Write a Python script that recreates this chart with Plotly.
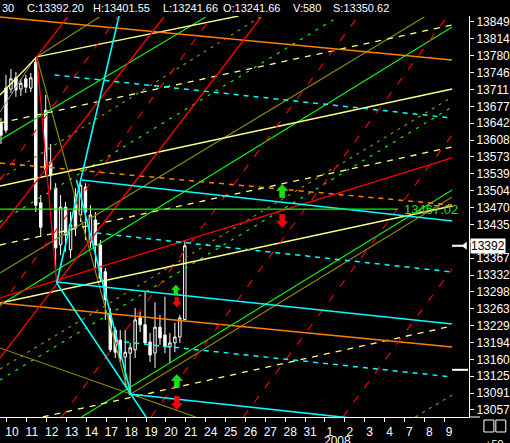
import plotly.graph_objects as go

# ---------------- data ----------------
# price bars: 4 bars per session, session index 0 = Dec 10
bar_pos = [-0.3, -0.05, 0.2, 0.45, 0.7, 0.95, 1.2, 1.45, 1.7, 1.95, 2.2, 2.45, 2.7, 2.95,
           3.2, 3.45, 3.7, 3.95, 4.2, 4.45, 4.7, 4.95, 5.2, 5.45, 5.7, 5.95, 6.2, 6.45,
           6.7, 6.95, 7.2, 7.45, 7.7, 7.95, 8.2, 8.45, 8.7, 8.95]
bar_open = [13643, 13714, 13712, 13735, 13712, 13733, 13714, 13767, 13480, 13669, 13563, 13510,
            13394, 13471, 13384, 13496, 13455, 13512, 13400, 13445, 13394, 13339, 13255, 13220,
            13200, 13165, 13173, 13180, 13245, 13231, 13196, 13173, 13226, 13210, 13186, 13194,
            13206, 13241.66]
bar_high = [13653, 13741, 13753, 13747, 13733, 13741, 13745, 13778, 13496, 13700, 13600, 13520,
            13496, 13482, 13461, 13510, 13527, 13520, 13475, 13461, 13404, 13347, 13265, 13226,
            13220, 13220, 13194, 13265, 13257, 13298, 13214, 13277, 13251, 13288, 13214, 13235,
            13251, 13401.55]
bar_low = [13600, 13622, 13704, 13696, 13698, 13704, 13706, 13461, 13410, 13537, 13506, 13347,
           13373, 13380, 13367, 13412, 13441, 13404, 13388, 13347, 13318, 13241, 13175, 13163,
           13155, 13108, 13092, 13163, 13216, 13190, 13155, 13143, 13190, 13173, 13153, 13175,
           13194, 13241.66]
bar_close = [13618, 13628, 13733, 13710, 13724, 13716, 13735, 13475, 13430, 13547, 13537, 13388,
             13471, 13414, 13435, 13429, 13516, 13461, 13455, 13394, 13326, 13282, 13180, 13175,
             13163, 13175, 13184, 13241, 13231, 13194, 13169, 13226, 13204, 13186, 13194, 13206,
             13245, 13392.20]

day_labels = ["10", "11", "12", "13", "14", "17", "18", "19", "20", "21", "24", "25", "26",
              "27", "28", "31", "1", "2", "3", "4", "7", "8", "9"]
price_ticks = [13057.0, 13091.4, 13125.9, 13160.3, 13194.7, 13229.2, 13263.6, 13298.0, 13332.5,
               13366.9, 13401.4, 13435.8, 13470.2, 13504.7, 13539.1, 13573.5, 13608.0, 13642.4,
               13676.8, 13711.3, 13745.7, 13780.1, 13814.6, 13849.0]
price_labels = ["13057", "13091", "13125", "13160", "13194", "13229", "13263", "13298", "13332",
                "13367", "", "13435", "13470", "13504", "13539", "13573", "13608", "13642",
                "13677", "13711", "13746", "13780", "13814", "13849"]

# drawn study lines: (session0, price0, session1, price1)
orange_solid = [(-0.35, 13859.2, 22.4, 13771.4), (-0.35, 13275.4, 22.4, 13185.6)]
orange_dash = [(-0.35, 13561.2, 22.4, 13475.4)]
cyan_solid = [(3.75, 13526.5, 22.4, 13442.8), (2.5, 13318.3, 22.4, 13232.6),
              (6.15, 13089.7, 22.4, 13018.2), (5.65, 13863.3, 2.5, 13316.2),
              (2.5, 13316.2, 7.0, 13042.7), (3.5, 13526.5, 6.25, 13087.6)]
cyan_dash = [(2.4, 13740.8, 22.4, 13653.0), (4.5, 13418.3, 22.4, 13338.7),
             (5.9, 13195.8, 22.4, 13124.4)]
yellow_solid = [(1.5, 13777.6, 11.65, 13861.2), (-0.35, 13700.0, 1.5, 13777.6),
                (-0.35, 13514.2, 22.4, 13712.2), (-0.35, 13275.4, 22.4, 13473.4)]
yellow_dash = [(-0.35, 13642.8, 22.4, 13842.9), (-0.35, 13393.8, 22.4, 13593.8),
               (1.8, 13042.7, 22.4, 13228.5)]
green_solid = [(-0.35, 13608.1, 10.0, 13859.2), (-0.35, 13271.3, 22.4, 13838.8),
               (3.75, 13042.7, 22.4, 13506.1)]
green_dash = [(-0.35, 13440.8, 16.65, 13859.2), (-0.35, 13118.3, 22.4, 13675.5)]
olive_solid = [(1.5, 13777.6, 4.65, 13859.2), (1.5, 13777.6, 6.15, 13087.6),
               (-0.35, 13336.6, 21.0, 13859.2), (6.15, 13087.6, 22.4, 13491.8),
               (-0.35, 13183.6, 9.5, 13042.7)]
olive_dash = [(-0.35, 13528.5, 12.75, 13859.2), (-0.35, 13140.7, 22.4, 13695.9),
              (20.55, 13042.7, 22.4, 13087.6)]
red_solid = [(1.5, 13777.6, 3.05, 13859.2), (1.5, 13777.6, 2.5, 13316.2),
             (-0.35, 13428.5, 7.9, 13859.2), (-0.35, 13163.1, 12.8, 13859.2),
             (-0.35, 13285.6, 22.4, 13571.4)]
red_dash = [(-0.35, 13526.5, 5.55, 13859.2), (-0.35, 13267.3, 10.3, 13859.2),
            (2.75, 13042.7, 17.65, 13859.2), (7.25, 13042.7, 22.15, 13859.2),
            (11.9, 13042.7, 22.4, 13618.3), (16.9, 13042.7, 22.4, 13344.8)]
gray_solid = [(-0.35, 13665.3, 1.4, 13775.5)]

support_level = 13467.02
support_span = (-0.35, 19.65)
last_price = 13392.20
marker_level = 13139
up_arrows = [(13.85, 13504.0, 1.0), (8.5, 13302.0, 0.75), (8.55, 13116.2, 1.0)]
down_arrows = [(13.85, 13442.8, 1.0), (8.55, 13277.4, 0.75), (8.55, 13071.3, 1.0)]

header_items = ["30", "C:13392.20", "H:13401.55", "L:13241.66", "O:13241.66", "V:580", "S:13350.62"]

# ---------------- figure ----------------
X_RANGE = [-0.35, 23.25]
Y_RANGE = [13042.7, 13861.2]
FONT = "Liberation Sans, Arial, sans-serif"

fig = go.Figure()

fig.add_trace(go.Candlestick(
    x=bar_pos, open=bar_open, high=bar_high, low=bar_low, close=bar_close,
    increasing=dict(line=dict(color="white", width=1), fillcolor="black"),
    decreasing=dict(line=dict(color="white", width=1), fillcolor="white"),
    whiskerwidth=0, showlegend=False, hoverinfo="skip"))


def seg_trace(segs, color, dash="solid", width=1.0):
    xs, ys = [], []
    for x0, y0, x1, y1 in segs:
        xs += [x0, x1, None]
        ys += [y0, y1, None]
    return go.Scatter(x=xs, y=ys, mode="lines", showlegend=False, hoverinfo="skip",
                      line=dict(color=color, width=width, dash=dash))


fig.add_trace(seg_trace(gray_solid, "#909090", "solid", 1))
fig.add_trace(seg_trace(olive_dash, "#8a8a00", "3px,5px", 1.2))
fig.add_trace(seg_trace(olive_solid, "#8a8a00", "solid", 1.2))
fig.add_trace(seg_trace(green_dash, "#10f010", "3px,6px", 1.2))
fig.add_trace(seg_trace(green_solid, "#10f010", "solid", 1.2))
fig.add_trace(seg_trace(yellow_dash, "#ffff80", "6px,6px", 1.3))
fig.add_trace(seg_trace(yellow_solid, "#ffff80", "solid", 1.3))
fig.add_trace(seg_trace(orange_dash, "#ff8000", "5px,5px", 1.5))
fig.add_trace(seg_trace(orange_solid, "#ff8000", "solid", 1.5))
fig.add_trace(seg_trace(red_dash, "#ff0000", "8px,10px", 1.1))
fig.add_trace(seg_trace(red_solid, "#ff0000", "solid", 1.3))
fig.add_trace(seg_trace(cyan_dash, "#00ffff", "5px,5px", 1.5))
fig.add_trace(seg_trace(cyan_solid, "#00ffff", "solid", 1.6))

# support line
fig.add_trace(go.Scatter(x=list(support_span), y=[support_level, support_level], mode="lines",
                         line=dict(color="#10f010", width=1.3), showlegend=False, hoverinfo="skip"))

# last-price pointer
fig.add_trace(go.Scatter(x=[22.4, 22.95], y=[last_price, last_price], mode="lines",
                         line=dict(color="white", width=2), showlegend=False, hoverinfo="skip"))
fig.add_trace(go.Scatter(x=[23.05], y=[last_price], mode="markers",
                         marker=dict(symbol="triangle-left", size=7, color="white"),
                         showlegend=False, hoverinfo="skip"))

shapes = []


def arrow_path(up, scale):
    pts = [(0, 6.5), (-5.5, 0.5), (-2.5, 0.5), (-2.5, -6.5), (2.5, -6.5), (2.5, 0.5), (5.5, 0.5)]
    sgn = 1 if up else -1
    return "M " + " L ".join(f"{px * scale:.2f},{sgn * py * scale:.2f}" for px, py in pts) + " Z"


for xa, ya, sc in up_arrows:
    shapes.append(dict(type="path", xref="x", yref="y", xsizemode="pixel", ysizemode="pixel",
                       xanchor=xa, yanchor=ya, path=arrow_path(True, sc),
                       fillcolor="#14e014", line=dict(color="#40ff40", width=0.5)))
for xa, ya, sc in down_arrows:
    shapes.append(dict(type="path", xref="x", yref="y", xsizemode="pixel", ysizemode="pixel",
                       xanchor=xa, yanchor=ya, path=arrow_path(False, sc),
                       fillcolor="#ff0000", line=dict(color="#ff2020", width=0.5)))

# right-side level marker
shapes.append(dict(type="line", xref="x", yref="y", x0=22.4, x1=23.2, y0=marker_level,
                   y1=marker_level, line=dict(color="white", width=2)))
# extension of the time axis line and the two small boxes
shapes.append(dict(type="line", xref="paper", yref="paper", x0=1, x1=1.0233, y0=0, y1=0,
                   line=dict(color="white", width=1)))
for x0, x1 in [(1.0318, 1.0530), (1.0572, 1.0784)]:
    shapes.append(dict(type="rect", xref="paper", yref="paper", x0=x0, x1=x1,
                       y0=-0.0374, y1=-0.0075, line=dict(color="white", width=1)))

annotations = []
header_x_px = [0, 25, 92, 162, 222, 293, 333]
for txt, px in zip(header_items, header_x_px):
    annotations.append(dict(text=txt, xref="paper", yref="paper", x=px / 472, y=1,
                            xanchor="left", yanchor="middle", yshift=8, showarrow=False,
                            font=dict(family=FONT, size=11, color="white")))
annotations.append(dict(text=f"{support_level:.2f}", xref="x", yref="y", x=19.9, y=support_level,
                        xanchor="left", yanchor="middle", showarrow=False,
                        font=dict(family=FONT, size=13, color="#20e020")))
annotations.append(dict(text=f"{last_price:.0f}", xref="paper", yref="y", x=1, y=last_price,
                        xanchor="left", yanchor="middle", xshift=1, showarrow=False,
                        bgcolor="white", borderpad=0,
                        font=dict(family=FONT, size=12, color="black")))
annotations.append(dict(text="2008", xref="paper", yref="paper", x=0.72, y=0,
                        xanchor="center", yanchor="middle", yshift=-24, showarrow=False,
                        font=dict(family=FONT, size=12, color="white")))
annotations.append(dict(text="+59", xref="paper", yref="paper", x=1.055, y=0,
                        xanchor="center", yanchor="middle", yshift=-27, showarrow=False,
                        font=dict(family=FONT, size=11, color="white")))

fig.update_layout(
    width=510, height=443,
    margin=dict(l=0, r=38, t=16, b=26),
    paper_bgcolor="black", plot_bgcolor="black",
    showlegend=False,
    shapes=shapes, annotations=annotations,
    xaxis=dict(range=X_RANGE, showgrid=False, zeroline=False, showline=True,
               linecolor="white", linewidth=1, ticks="outside", tickcolor="white",
               ticklen=4, tickwidth=1, tickvals=list(range(len(day_labels))),
               ticktext=day_labels, ticklabelshift=5,
               tickfont=dict(family=FONT, size=12, color="white"),
               rangeslider=dict(visible=False), fixedrange=True),
    yaxis=dict(range=Y_RANGE, side="right", showgrid=False, zeroline=False, showline=True,
               linecolor="white", linewidth=1, ticks="outside", tickcolor="white",
               ticklen=4, tickwidth=1, tickvals=price_ticks, ticktext=price_labels,
               tickfont=dict(family=FONT, size=12, color="white"), fixedrange=True),
)

fig.write_html(
    "out.html",
    config={"displayModeBar": False},
    post_script="document.body.style.margin='0';document.body.style.padding='0';"
                "document.body.style.overflow='hidden';document.body.style.background='black';",
)
